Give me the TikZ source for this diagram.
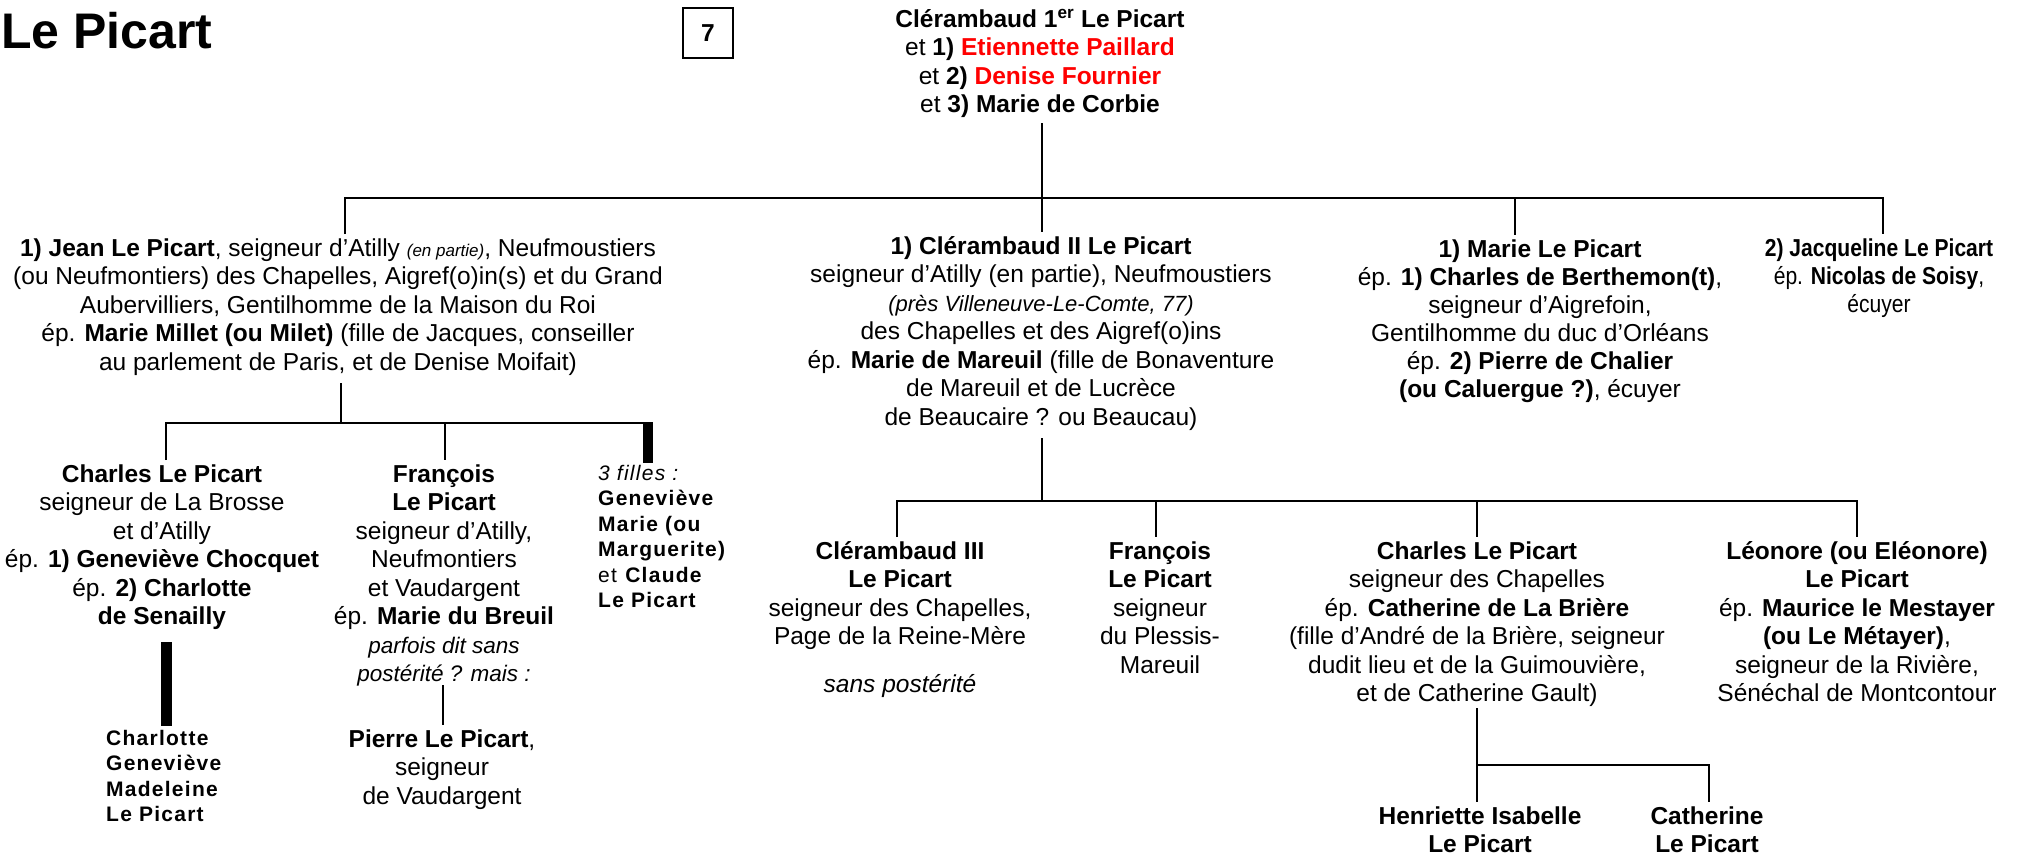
\documentclass[tikz,border=0pt]{standalone}
\usepackage{fontspec}
\setmainfont{Liberation Sans}
\newfontfamily\jfont{Liberation Sans}[FakeStretch=0.86]
\newfontfamily\spfont{Liberation Sans}[LetterSpace=6]
\newcommand\fst{\rule{0pt}{0.9em}}
\definecolor{pred}{RGB}{255,0,0}
\begin{document}
\begin{tikzpicture}[x=1pt,y=-1pt,
  ln/.style={line width=2.4pt},
  tx/.style={align=center, inner sep=0pt, font=\fontsize{24.5}{28.5}\selectfont},
  txl/.style={align=left, inner sep=0pt, font=\spfont\fontsize{21}{25.5}\selectfont},
  numbox/.style={draw, line width=1.3pt, minimum width=50pt, minimum height=50pt, inner sep=0pt, font=\bfseries\fontsize{24.5}{28}\selectfont}]
\useasboundingbox (0,0) rectangle (2030,857);

% title and number
\node[anchor=base west, inner sep=0pt, font=\bfseries\fontsize{50}{56}\selectfont] (title) at (1,48) {Le Picart};
\node[numbox] (num) at (708,33) {7};

% generation 1
\node[tx, anchor=north] (top) at (1040,5) {\fst\textbf{Clérambaud 1\textsuperscript{er} Le Picart}\\
et \textbf{1) \textcolor{pred}{Etiennette Paillard}}\\
et \textbf{2) \textcolor{pred}{Denise Fournier}}\\
et \textbf{3) Marie de Corbie}};

% generation 2
\node[tx, anchor=north] (jean) at (338,234) {\fst\textbf{1) Jean Le Picart}, seigneur d’Atilly {\fontsize{17}{28.5}\selectfont\itshape (en partie)}, Neufmoustiers\\
(ou Neufmontiers) des Chapelles, Aigref(o)in(s) et du Grand\\
Aubervilliers, Gentilhomme de la Maison du Roi\\
ép. \textbf{Marie Millet (ou Milet)} (fille de Jacques, conseiller\\
au parlement de Paris, et de Denise Moifait)};

\node[tx, anchor=north] (cler2) at (1041,232) {\fst\textbf{1) Clérambaud II Le Picart}\\
seigneur d’Atilly (en partie), Neufmoustiers\\
{\fontsize{22}{28.5}\selectfont\itshape (près Villeneuve-Le-Comte, 77)}\\
des Chapelles et des Aigref(o)ins\\
ép. \textbf{Marie de Mareuil} (fille de Bonaventure\\
de Mareuil et de Lucrèce\\
de Beaucaire ? ou Beaucau)};

\node[tx, anchor=north, font=\fontsize{24.5}{28}\selectfont] (marie) at (1540,235) {\fst\textbf{1) Marie Le Picart}\\
ép. \textbf{1) Charles de Berthemon(t)},\\
seigneur d’Aigrefoin,\\
Gentilhomme du duc d’Orléans\\
ép. \textbf{2) Pierre de Chalier}\\
\textbf{(ou Caluergue ?)}, écuyer};

\node[tx, anchor=north, font=\jfont\fontsize{24.5}{28}\selectfont] (jacq) at (1879,234) {\fst\textbf{2) Jacqueline Le Picart}\\
ép. \textbf{Nicolas de Soisy},\\
écuyer};

% generation 3, Jean's children
\node[tx, anchor=north] (charlesA) at (162,460) {\fst\textbf{Charles Le Picart}\\
seigneur de La Brosse\\
et d’Atilly\\
ép. \textbf{1) Geneviève Chocquet}\\
ép. \textbf{2) Charlotte}\\
\textbf{de Senailly}};

\node[tx, anchor=north] (francoisA) at (444,460) {\fst\textbf{François}\\
\textbf{Le Picart}\\
seigneur d’Atilly,\\
Neufmontiers\\
et Vaudargent\\
ép. \textbf{Marie du Breuil}\\
{\fontsize{22.5}{28.5}\selectfont\itshape parfois dit sans}\\
{\fontsize{22.5}{28.5}\selectfont\itshape postérité ? mais :}};

\node[txl, anchor=north west] (filles) at (598,461) {\fst{\itshape 3 filles :}\\
\textbf{Geneviève}\\
\textbf{Marie (ou}\\
\textbf{Marguerite)}\\
et \textbf{Claude}\\
\textbf{Le Picart}};

\node[txl, anchor=north west] (charlotte) at (106,726) {\fst\textbf{Charlotte}\\
\textbf{Geneviève}\\
\textbf{Madeleine}\\
\textbf{Le Picart}};

\node[tx, anchor=north] (pierre) at (442,725) {\fst\textbf{Pierre Le Picart},\\
seigneur\\
de Vaudargent};

% generation 3, Clérambaud II's children
\node[tx, anchor=north] (cler3) at (900,537) {\fst\textbf{Clérambaud III}\\
\textbf{Le Picart}\\
seigneur des Chapelles,\\
Page de la Reine-Mère\\[19.5pt]
{\itshape sans postérité}};

\node[tx, anchor=north] (francoisB) at (1160,537) {\fst\textbf{François}\\
\textbf{Le Picart}\\
seigneur\\
du Plessis-\\
Mareuil};

\node[tx, anchor=north] (charlesB) at (1477,537) {\fst\textbf{Charles Le Picart}\\
seigneur des Chapelles\\
ép. \textbf{Catherine de La Brière}\\
(fille d’André de la Brière, seigneur\\
dudit lieu et de la Guimouvière,\\
et de Catherine Gault)};

\node[tx, anchor=north] (leonore) at (1857,537) {\fst\textbf{Léonore (ou Eléonore)}\\
\textbf{Le Picart}\\
ép. \textbf{Maurice le Mestayer}\\
\textbf{(ou Le Métayer)},\\
seigneur de la Rivière,\\
Sénéchal de Montcontour};

% generation 4
\node[tx, anchor=north] (henriette) at (1480,802) {\fst\textbf{Henriette Isabelle}\\
\textbf{Le Picart}};
\node[tx, anchor=north] (catherine) at (1707,802) {\fst\textbf{Catherine}\\
\textbf{Le Picart}};

% ---- connectors ----
% Clérambaud 1er
\coordinate (g1L) at (345,198);
\coordinate (g1R) at (1883,198);
\coordinate (g1M) at (1515,198);
\draw[ln] (1042,123) coordinate (topS) -- (topS |- cler2.north);
\draw[ln] (g1L |- jean.north) -- (g1L) -- (g1R) -- (g1R |- jacq.north);
\draw[ln] (g1M) -- (g1M |- marie.north);

% Jean
\coordinate (jS) at (341,383);
\coordinate (g2L) at (166,423);
\coordinate (g2R) at (653,423);
\coordinate (g2M) at (445,423);
\draw[ln] (jS) -- (jS |- g2L);
\draw[ln] (g2L |- charlesA.north) -- (g2L) -- (g2R);
\draw[ln] (g2M) -- (g2M |- francoisA.north);
\fill (643,421.8) rectangle (653,463);

% Charles -> Charlotte (thick)
\fill (161,642) rectangle (172,726);

% François -> Pierre
\coordinate (fS) at (443,685);
\draw[ln] (fS) -- (fS |- pierre.north);

% Clérambaud II
\coordinate (c2S) at (1042,438);
\coordinate (g3L) at (897,501);
\coordinate (g3R) at (1857,501);
\coordinate (g3a) at (1156,501);
\coordinate (g3b) at (1477,501);
\draw[ln] (c2S) -- (c2S |- g3L);
\draw[ln] (g3L |- cler3.north) -- (g3L) -- (g3R) -- (g3R |- leonore.north);
\draw[ln] (g3a) -- (g3a |- francoisB.north);
\draw[ln] (g3b) -- (g3b |- charlesB.north);

% Charles (gen 3) -> daughters
\coordinate (chS) at (1477,708);
\coordinate (g4R) at (1709,765);
\draw[ln] (chS) -- (chS |- henriette.north);
\draw[ln] (chS |- g4R) -- (g4R) -- (g4R |- catherine.north);
\end{tikzpicture}
\end{document}
